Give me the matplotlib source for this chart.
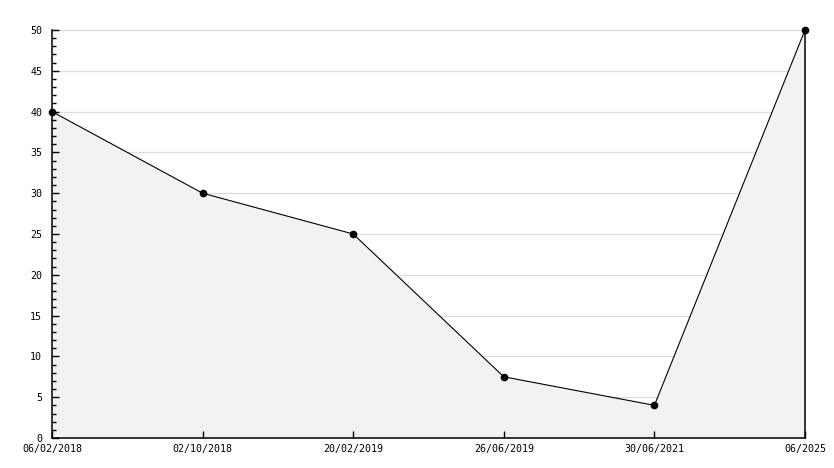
import matplotlib
matplotlib.use("Agg")
import matplotlib.pyplot as plt
from matplotlib.ticker import MultipleLocator

# values
dates = ["06/02/2018", "02/10/2018", "20/02/2019", "26/06/2019", "30/06/2021", "06/2025"]
values = [40, 30, 25, 7.5, 4, 50]
grid_levels = [5, 10, 15, 20, 25, 30, 35, 40, 45, 50]

plt.rcParams["font.family"] = "DejaVu Sans Mono"
plt.rcParams["font.size"] = 7.2

fig = plt.figure(figsize=(8.34, 4.68), dpi=100)
ax = fig.add_axes([52 / 834, 30 / 468, 753 / 834, 408 / 468])

x = list(range(len(dates)))

# grid under the filled area
for level in grid_levels:
    ax.axhline(level, color="#dcdcdc", linewidth=0.9, zorder=1)

ax.fill_between(x, values, 0, color="#f2f2f2", zorder=2, linewidth=0)
ax.plot(x, values, color="black", linewidth=0.8, marker="o", markersize=4.5,
        zorder=4, clip_on=False)

ax.set_xlim(0, len(dates) - 1)
ax.set_ylim(0, 50)
ax.set_xticks(x)
ax.set_xticklabels(dates)
ax.yaxis.set_major_locator(MultipleLocator(5))
ax.yaxis.set_minor_locator(MultipleLocator(1))
ax.set_axisbelow(False)

ax.spines["top"].set_visible(False)
for side in ["left", "bottom", "right"]:
    ax.spines[side].set_linewidth(1.1)

ax.tick_params(axis="y", which="major", direction="in", length=5, width=1, pad=7)
ax.tick_params(axis="y", which="minor", direction="in", length=3, width=1)
ax.tick_params(axis="x", which="major", direction="in", length=5, width=1, pad=4)
ax.tick_params(axis="y", right=False)

fig.savefig("out.png", dpi=100)
